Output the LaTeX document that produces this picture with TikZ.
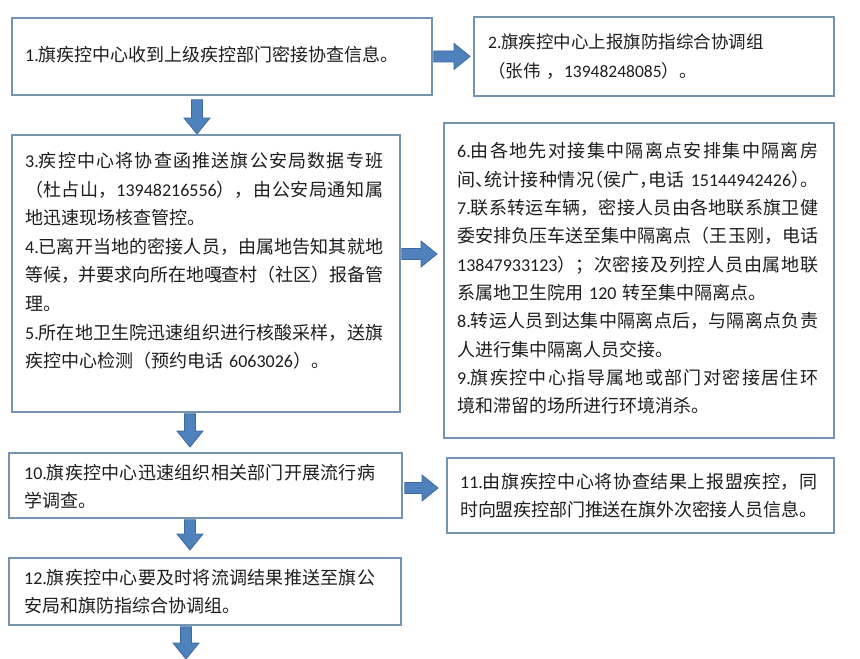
\documentclass[tikz,border=0pt]{standalone}
\usepackage{fontspec}
\setmainfont{Noto Sans CJK SC}
\newfontfamily\latf{Carlito}
\newfontfamily\halfpunct[RawFeature=+halt]{Noto Sans CJK SC}
\newcommand\hp[1]{{\halfpunct #1}}
\newcommand\lnum[1]{{\latf #1}}
\newcommand\fullln[1]{{\leftskip=0pt\rightskip=0pt\parfillskip=0pt\relax #1\par}}
\newcommand\lastln[1]{{#1\par}}
\XeTeXlinebreaklocale "zh"
\XeTeXlinebreakskip=0pt plus 5pt minus 1.5pt
\XeTeXlinebreakpenalty=10000
\usetikzlibrary{calc}
\definecolor{bordc}{HTML}{7393AF}
\definecolor{arrf}{HTML}{4F81BD}
\definecolor{arrd}{HTML}{3C6A9E}
\definecolor{textc}{HTML}{1E1E1E}
\tikzset{
  boxs/.style={draw=bordc, line width=1.8pt, fill=white, rectangle, anchor=north west, inner sep=0pt},
  txt/.style={inner sep=0pt, anchor=north west, align=left, text=textc, font=\fontsize{18pt}{28.5pt}\selectfont},
  arrs/.style={fill=arrf, draw=arrd, line width=0.8pt, line join=miter}
}
\newcommand\blockarrow[2]{%
  \draw[arrs] let \p1=(#1), \p2=(#2), \n1={atan2(\y2-\y1,\x2-\x1)}, \n2={veclen(\x2-\x1,\y2-\y1)} in
    [shift={(\p1)}, rotate=\n1]
    (0,-5.5) -- (\n2-16,-5.5) -- (\n2-16,-13) -- (\n2,0) -- (\n2-16,13) -- (\n2-16,5.5) -- (0,5.5) -- cycle;}
\begin{document}
\begin{tikzpicture}[x=1pt,y=-1pt]
\useasboundingbox[fill=white] (0,0) rectangle (860,659);
% boxes
\node[boxs, minimum width=420pt, minimum height=77pt] (b1) at (11,17) {};
\node[boxs, minimum width=360pt, minimum height=79pt] (b2) at (473,16) {};
\node[boxs, minimum width=388pt, minimum height=277pt] (b3) at (11,134) {};
\node[boxs, minimum width=390pt, minimum height=315pt] (b4) at (443,122) {};
\node[boxs, minimum width=393pt, minimum height=65pt] (b5) at (8,452) {};
\node[boxs, minimum width=387pt, minimum height=75pt] (b6) at (446,457) {};
\node[boxs, minimum width=392pt, minimum height=67pt] (b7) at (8,557) {};
% texts
\node[txt] (t1) at (25,46) {\lnum{1.}旗疾控中心收到上级疾控部门密接协查信息。};
\node[txt, text width=320pt, font=\fontsize{17.5pt}{29pt}\selectfont] (t2) at (488,34) {%
\lastln{\lnum{2.}旗疾控中心上报旗防指综合协调组}
\lastln{（张伟 ，\lnum{13948248085}）。}};
\node[txt, text width=358pt, font=\fontsize{18pt}{28.6pt}\selectfont] (t3) at (25,152) {%
\fullln{\lnum{3.}疾控中心将协查函推送旗公安局数据专班}
\fullln{（杜占山，\lnum{13948216556}），由公安局通知属}
\lastln{地迅速现场核查管控。}
\fullln{\lnum{4.}已离开当地的密接人员，由属地告知其就地}
\fullln{等候，并要求向所在地嘎查村（社区）报备管}
\lastln{理。}
\fullln{\lnum{5.}所在地卫生院迅速组织进行核酸采样，送旗}
\lastln{疾控中心检测（预约电话 \lnum{6063026}）。}};
\node[txt, text width=361pt, font=\fontsize{18pt}{28.3pt}\selectfont] (t4) at (457,142.5) {%
\fullln{\lnum{6.}由各地先对接集中隔离点安排集中隔离房}
\fullln{间\hp{、}统计接种情况\hp{（}侯广\hp{，}电话~\lnum{15144942426}\hp{）}。}
\fullln{\lnum{7.}联系转运车辆，密接人员由各地联系旗卫健}
\fullln{委安排负压车送至集中隔离点（王玉刚，电话}
\fullln{\lnum{13847933123}）；次密接及列控人员由属地联}
\lastln{系属地卫生院用 \lnum{120} 转至集中隔离点。}
\fullln{\lnum{8.}转运人员到达集中隔离点后，与隔离点负责}
\lastln{人进行集中隔离人员交接。}
\fullln{\lnum{9.}旗疾控中心指导属地或部门对密接居住环}
\lastln{境和滞留的场所进行环境消杀。}};
\node[txt, text width=351pt] (t5) at (24,464) {%
\fullln{\lnum{10.}旗疾控中心迅速组织相关部门开展流行病}
\lastln{学调查。}};
\node[txt, text width=357pt, font=\fontsize{18pt}{28pt}\selectfont] (t6) at (460,473) {%
\fullln{\lnum{11.}由旗疾控中心将协查结果上报盟疾控，同}
\lastln{时向盟疾控部门推送在旗外次密接人员信息。}};
\node[txt, text width=351pt] (t7) at (24,569) {%
\fullln{\lnum{12.}旗疾控中心要及时将流调结果推送至旗公}
\lastln{安局和旗防指综合协调组。}};
% arrows
\coordinate (endpt) at (186,659);
\blockarrow{$(197,0 |- b1.south)+(0,4)$}{197,0 |- b3.north}
\blockarrow{$(b1.east)+(1,0)$}{$(b2.west)+(-3,0)$}
\blockarrow{$(b3.east |- 0,254)+(1,0)$}{$(b4.west |- 0,254)+(-6,0)$}
\blockarrow{$(190,0 |- b3.south)+(0,1)$}{$(190,0 |- b5.north)+(0,-5)$}
\blockarrow{$(b5.east |- 0,488)+(2,0)$}{$(b6.west |- 0,488)+(-8,0)$}
\blockarrow{$(190,0 |- b5.south)+(0,1)$}{$(190,0 |- b7.north)+(0,-7)$}
\blockarrow{$(186,0 |- b7.south)+(0,1)$}{endpt}
\end{tikzpicture}
\end{document}
